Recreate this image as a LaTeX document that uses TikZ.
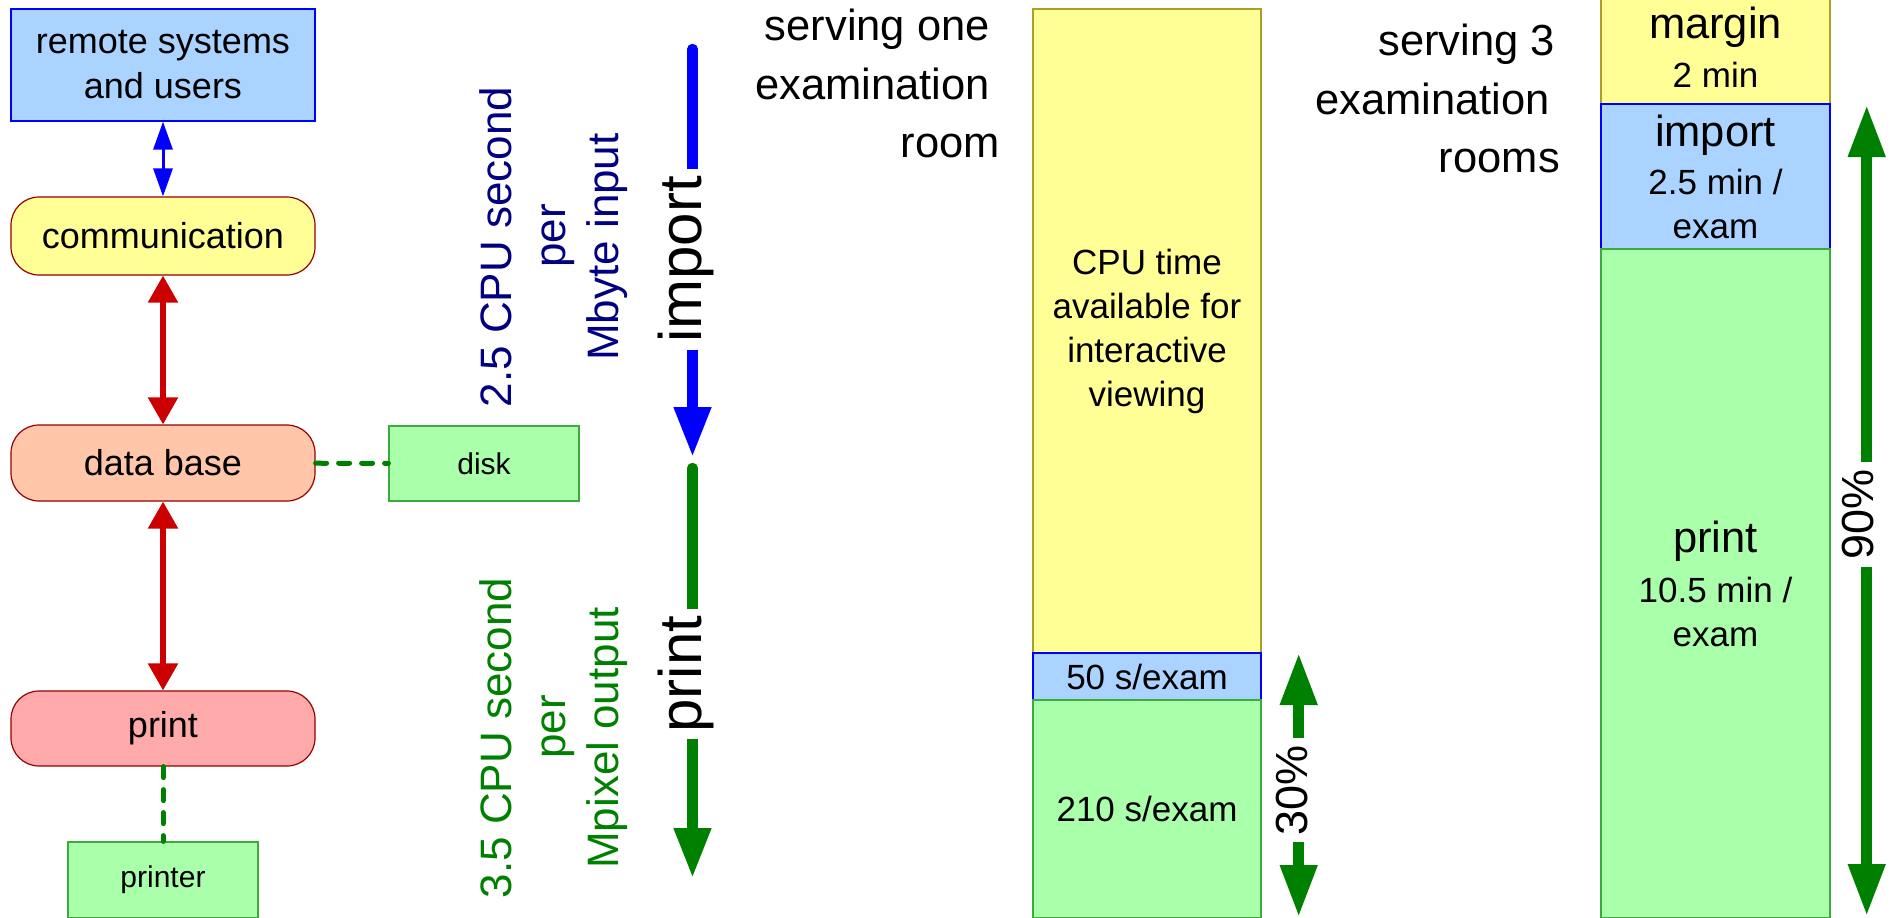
\documentclass[tikz,border=0pt]{standalone}
\usepackage{fontspec}
\setmainfont{Liberation Sans}
\usepackage{xcolor}
\usetikzlibrary{arrows.meta}

\definecolor{lightblue}{RGB}{170,212,255}
\definecolor{lightyellow}{RGB}{255,255,150}
\definecolor{peach}{RGB}{255,198,170}
\definecolor{pink}{RGB}{255,170,170}
\definecolor{lightgreen}{RGB}{170,255,170}
\definecolor{devgreen}{RGB}{60,170,60}
\definecolor{darkgreen}{RGB}{0,128,0}
\definecolor{darkred}{RGB}{150,0,0}
\definecolor{arrowred}{RGB}{204,0,0}
\definecolor{navy}{RGB}{0,0,128}
\definecolor{barolive}{RGB}{170,160,40}

\begin{document}
\begin{tikzpicture}[x=1pt, y=-1pt,
    proc/.style={draw=darkred, line width=1.2pt, rounded corners=28pt,
        minimum width=304pt, font=\fontsize{36}{45}\selectfont},
    dev/.style={draw=devgreen, fill=lightgreen, line width=1.2pt,
        minimum width=190pt, minimum height=75pt, font=\fontsize{30}{36}\selectfont},
    link/.style={arrowred, line width=5.5pt,
        {Triangle[length=27pt,width=29pt]}-{Triangle[length=27pt,width=29pt]}},
    wire/.style={darkgreen, line width=5pt, line cap=round, dash pattern=on 11pt off 12pt},
    flow/.style={line width=10.5pt, line cap=round, -{Triangle[length=50pt,width=35pt]}},
    share/.style={darkgreen, line width=10.5pt,
        {Triangle[length=52pt,width=35pt]}-{Triangle[length=52pt,width=35pt]}},
    bar/.style={line width=1.2pt, minimum width=228pt, inner sep=0pt, align=center,
        font=\fontsize{35}{44}\selectfont},
    gap/.style={fill=white, rotate=90, anchor=base, inner xsep=7pt, inner ysep=2pt}]
    \useasboundingbox (0,0) rectangle (1893,918);

    % system parts
    \node[draw=blue, fill=lightblue, line width=1.2pt, minimum width=304pt, minimum height=112pt,
        align=center, font=\fontsize{36}{45}\selectfont] (remote) at (163,65) {remote systems\\and users};
    \node[proc, fill=lightyellow, minimum height=78pt] (comm) at (163,236) {communication};
    \node[proc, fill=peach, minimum height=76pt] (dbase) at (163,463) {data base};
    \node[proc, fill=pink, minimum height=75pt] (prt) at (163,728.5) {print};
    \node[dev] (disk) at (484,463.5) {disk};
    \node[dev, minimum height=76pt] (printer) at (163,880) {printer};

    \draw[blue, line width=3pt,
        {Triangle[length=28pt,width=19pt]}-{Triangle[length=28pt,width=19pt]}] (remote) -- (comm);
    \draw[link] (comm) -- (dbase);
    \draw[link] (dbase) -- (prt);
    \draw[wire] (dbase) -- (disk);
    \draw[wire] (prt) -- (printer);

    % CPU cost per step
    \node[rotate=90, navy, align=center, font=\fontsize{44}{53.5}\selectfont] (imprate) at (554,247)
        {2.5 CPU second\\\kern22pt per\\Mbyte input};
    \node[rotate=90, darkgreen, align=center, font=\fontsize{44}{53.5}\selectfont] (prtrate) at (554,738)
        {3.5 CPU second\\\kern22pt per\\Mpixel output};

    \coordinate (imptop) at (692.5,49);
    \coordinate (imptip) at (692.5,457);
    \coordinate (prttop) at (692.5,468);
    \coordinate (prttip) at (692.5,878);
    \draw[flow, blue] (imptop) -- (imptip);
    \draw[flow, darkgreen] (prttop) -- (prttip);
    \node[gap, font=\fontsize{60}{72}\selectfont] (implabel) at (701,259.5) {import};
    \node[gap, font=\fontsize{60}{72}\selectfont] (prtlabel) at (701,674) {print};

    % one examination room
    \node[anchor=north east, inner sep=0pt, align=right, font=\fontsize{43.5}{58.5}\selectfont] (oneroom)
        at (1000,9) {serving one\kern10pt\\examination\kern10pt\\room};
    \node[bar, draw=barolive, fill=lightyellow, minimum height=644pt] (avail) at (1147,331)
        {CPU time\\available for\\interactive\\viewing};
    \node[bar, draw=blue, fill=lightblue, minimum height=47pt] (imp1) at (1147,676.5) {50 s/exam};
    \node[bar, draw=devgreen, fill=lightgreen, minimum height=218pt] (prt1) at (1147,809) {210 s/exam};

    \coordinate (p30top) at (1298.7,653);
    \coordinate (p30bot) at (1298.7,917);
    \draw[share] (p30top) -- (p30bot);
    \node[gap, font=\fontsize{45}{54}\selectfont] (p30) at (1307,790) {30\%};

    % three examination rooms
    \node[anchor=north east, inner sep=0pt, align=right, font=\fontsize{43.5}{58.5}\selectfont] (threerooms)
        at (1560,24) {serving 3\kern5pt\\examination\kern10pt\\rooms};
    \node[bar, draw=barolive, fill=lightyellow, minimum width=229pt, minimum height=114pt] (margin) at (1715.5,47)
        {{\fontsize{43.5}{52}\selectfont margin}\\[5pt]2 min};
    \node[bar, draw=blue, fill=lightblue, minimum width=229pt, minimum height=145pt] (imp3) at (1715.5,176.5)
        {{\fontsize{43.5}{52}\selectfont import}\\[4pt]2.5 min /\\exam};
    \node[bar, draw=devgreen, fill=lightgreen, minimum width=229pt, minimum height=669pt] (prt3) at (1715.5,583.5)
        {{\fontsize{43.5}{52}\selectfont print}\\[6pt]10.5 min /\\exam};

    \coordinate (p90top) at (1866.7,105);
    \coordinate (p90bot) at (1866.7,916);
    \draw[share] (p90top) -- (p90bot);
    \node[gap, font=\fontsize{45}{54}\selectfont] (p90) at (1873,514.5) {90\%};
\end{tikzpicture}
\end{document}
